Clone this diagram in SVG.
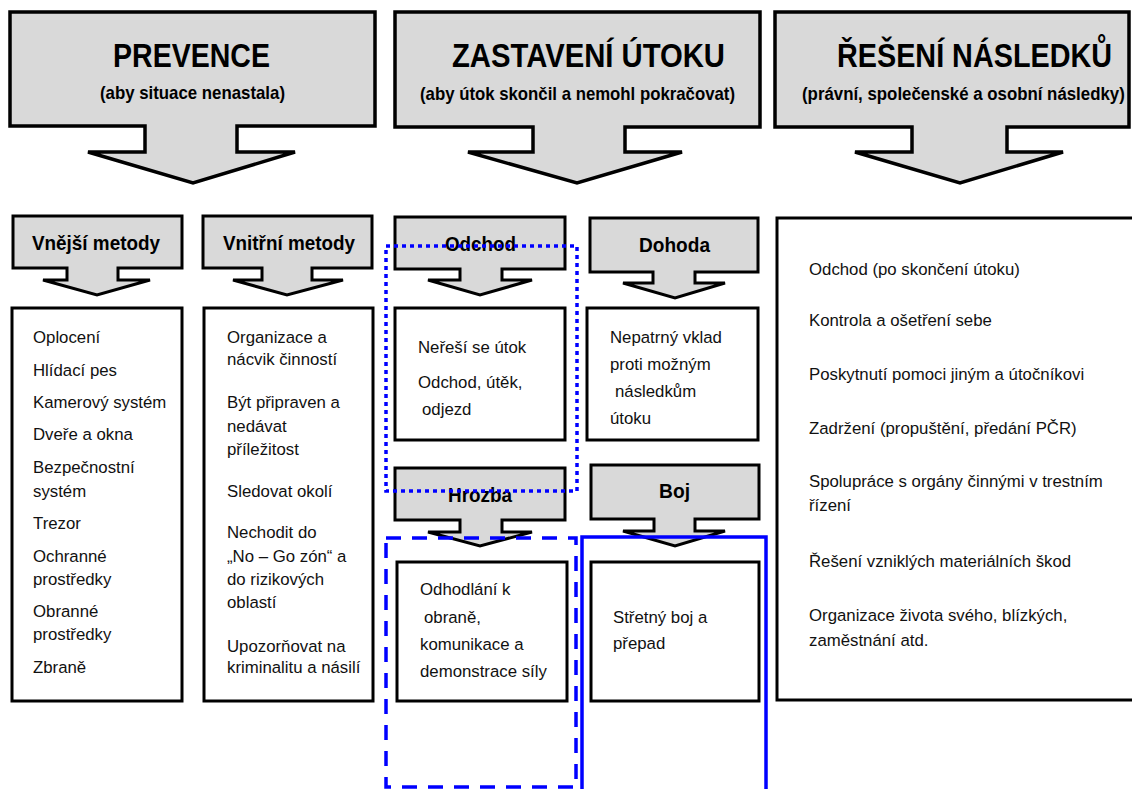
<svg xmlns="http://www.w3.org/2000/svg" width="1132" height="789" viewBox="0 0 1132 789">
<style>
.arrow{fill:#d9d9d9;stroke:#000;stroke-width:3.5;stroke-linejoin:miter}
.sarrow{fill:#d9d9d9;stroke:#000;stroke-width:3}
.box{fill:#fff;stroke:#000;stroke-width:3}
.t1{font-family:"Liberation Sans",Arial,sans-serif;font-weight:bold;font-size:33px;fill:#000}
.t2{font-family:"Liberation Sans",Arial,sans-serif;font-weight:bold;font-size:19px;fill:#000}
.h{font-family:"Liberation Sans",Arial,sans-serif;font-weight:bold;font-size:21px;fill:#000}
.b{font-family:"Liberation Sans",Arial,sans-serif;font-size:16.8px;fill:#111}
.blue{fill:none;stroke:#0000ff;stroke-width:3.5}
</style>
<rect width="1132" height="789" fill="#fff"/>

<g id="prevence">
<path class="arrow" d="M10,12 H375 V126 H237 V152 H295 L193,183 L88,152 H145 V126 H10 Z"/>
<text class="t1" x="113" y="67" textLength="157" lengthAdjust="spacingAndGlyphs">PREVENCE</text>
<text class="t2" x="100" y="99" textLength="185" lengthAdjust="spacingAndGlyphs">(aby situace nenastala)</text>
</g>
<g id="zastaveni">
<path class="arrow" d="M395,12 H760 V127 H625 V152 H682 L577,183 L468,152 H533 V127 H395 Z"/>
<text class="t1" x="452" y="67" textLength="273" lengthAdjust="spacingAndGlyphs">ZASTAVENÍ ÚTOKU</text>
<text class="t2" x="420" y="100" textLength="315" lengthAdjust="spacingAndGlyphs">(aby útok skončil a nemohl pokračovat)</text>
</g>
<g id="reseni">
<path class="arrow" d="M775,12 H1129 V127 H1007 V152 H1063 L960,183 L855,152 H912 V127 H775 Z"/>
<text class="t1" transform="translate(837,67) scale(0.873,1)" x="0" y="0" textLength="315" lengthAdjust="spacingAndGlyphs">ŘEŠENÍ NÁSLEDKŮ</text>
<text class="t2" transform="translate(802,100) scale(0.87,1)" x="0" y="0" textLength="371" lengthAdjust="spacingAndGlyphs">(právní, společenské a osobní následky)</text>
</g>

<g id="vnejsi">
<path class="sarrow" d="M13,216 H182 V268 H118 V280 H150 L97,295 L43,280 H67 V268 H13 Z"/>
<text class="h" x="32" y="250" textLength="128" lengthAdjust="spacingAndGlyphs">Vnější metody</text>
</g>
<g id="vnitrni">
<path class="sarrow" d="M203,216 H372 V268 H312 V280 H343 L287,295 L233,280 H262 V268 H203 Z"/>
<text class="h" x="223" y="250" textLength="132" lengthAdjust="spacingAndGlyphs">Vnitřní metody</text>
</g>
<g id="odchod">
<path class="sarrow" d="M395,217 H565 V269 H502 V280 H532 L480,295 L428,280 H460 V269 H395 Z"/>
<text class="h" x="445" y="251" textLength="71" lengthAdjust="spacingAndGlyphs">Odchod</text>
</g>
<g id="dohoda">
<path class="sarrow" d="M590,218 H758 V272 H695 V283 H725 L675,298 L623,283 H653 V272 H590 Z"/>
<text class="h" x="639" y="252" textLength="71" lengthAdjust="spacingAndGlyphs">Dohoda</text>
</g>
<g id="hrozba">
<path class="sarrow" d="M395,468 H565 V520 H502 V532 H532 L480,546 L428,532 H460 V520 H395 Z"/>
<text class="h" x="448" y="502" textLength="64" lengthAdjust="spacingAndGlyphs">Hrozba</text>
</g>
<g id="boj">
<path class="sarrow" d="M591,465 H759 V519 H695 V531 H725 L675,546 L623,531 H654 V519 H591 Z"/>
<text class="h" x="659" y="498" textLength="31" lengthAdjust="spacingAndGlyphs">Boj</text>
</g>

<g id="box-vnejsi">
<rect class="box" x="12" y="308" width="170" height="393"/>
<text class="b" x="33" y="343">Oplocení</text>
<text class="b" x="33" y="376">Hlídací pes</text>
<text class="b" x="33" y="408">Kamerový systém</text>
<text class="b" x="33" y="440">Dveře a okna</text>
<text class="b" x="33" y="473">Bezpečnostní</text>
<text class="b" x="33" y="497">systém</text>
<text class="b" x="33" y="529">Trezor</text>
<text class="b" x="33" y="562">Ochranné</text>
<text class="b" x="33" y="585">prostředky</text>
<text class="b" x="33" y="617">Obranné</text>
<text class="b" x="33" y="640">prostředky</text>
<text class="b" x="33" y="673">Zbraně</text>
</g>
<g id="box-vnitrni">
<rect class="box" x="204" y="308" width="169" height="393"/>
<text class="b" x="227" y="343">Organizace a</text>
<text class="b" x="227" y="365">nácvik činností</text>
<text class="b" x="227" y="408">Být připraven a</text>
<text class="b" x="227" y="432">nedávat</text>
<text class="b" x="227" y="455">příležitost</text>
<text class="b" x="227" y="497">Sledovat okolí</text>
<text class="b" x="227" y="538">Nechodit do</text>
<text class="b" x="227" y="562">„No – Go zón“ a</text>
<text class="b" x="227" y="585">do rizikových</text>
<text class="b" x="227" y="608">oblastí</text>
<text class="b" x="227" y="652">Upozorňovat na</text>
<text class="b" x="227" y="673">kriminalitu a násilí</text>
</g>
<g id="box-odchod">
<rect class="box" x="395" y="308" width="170" height="132"/>
<text class="b" x="418" y="353">Neřeší se útok</text>
<text class="b" x="418" y="388">Odchod, útěk,</text>
<text class="b" x="422" y="415">odjezd</text>
</g>
<g id="box-dohoda">
<rect class="box" x="587" y="308" width="171" height="132"/>
<text class="b" x="610" y="343">Nepatrný vklad</text>
<text class="b" x="610" y="370">proti možným</text>
<text class="b" x="615" y="397">následkům</text>
<text class="b" x="610" y="424">útoku</text>
</g>
<g id="box-hrozba">
<rect class="box" x="397" y="562" width="170" height="139"/>
<text class="b" x="420" y="595">Odhodlání k</text>
<text class="b" x="424" y="623">obraně,</text>
<text class="b" x="420" y="650">komunikace a</text>
<text class="b" x="420" y="677">demonstrace síly</text>
</g>
<g id="box-boj">
<rect class="box" x="591" y="562" width="168" height="139"/>
<text class="b" x="613" y="623">Střetný boj a</text>
<text class="b" x="613" y="649">přepad</text>
</g>
<g id="box-reseni">
<rect class="box" x="777" y="218" width="370" height="482"/>
<text class="b" x="809" y="275">Odchod (po skončení útoku)</text>
<text class="b" x="809" y="326">Kontrola a ošetření sebe</text>
<text class="b" x="809" y="380">Poskytnutí pomoci jiným a útočníkovi</text>
<text class="b" x="809" y="434">Zadržení (propuštění, předání PČR)</text>
<text class="b" x="809" y="487">Spolupráce s orgány činnými v trestním</text>
<text class="b" x="809" y="511">řízení</text>
<text class="b" x="809" y="567">Řešení vzniklých materiálních škod</text>
<text class="b" x="809" y="621">Organizace života svého, blízkých,</text>
<text class="b" x="809" y="646">zaměstnání atd.</text>
</g>

<g id="connectors">
<rect class="blue" x="386" y="246" width="191" height="245" stroke-dasharray="4 4"/>
<rect class="blue" x="386" y="538" width="190" height="249" stroke-dasharray="15 11"/>
<rect class="blue" x="582" y="537" width="184" height="256"/>
</g>
</svg>
